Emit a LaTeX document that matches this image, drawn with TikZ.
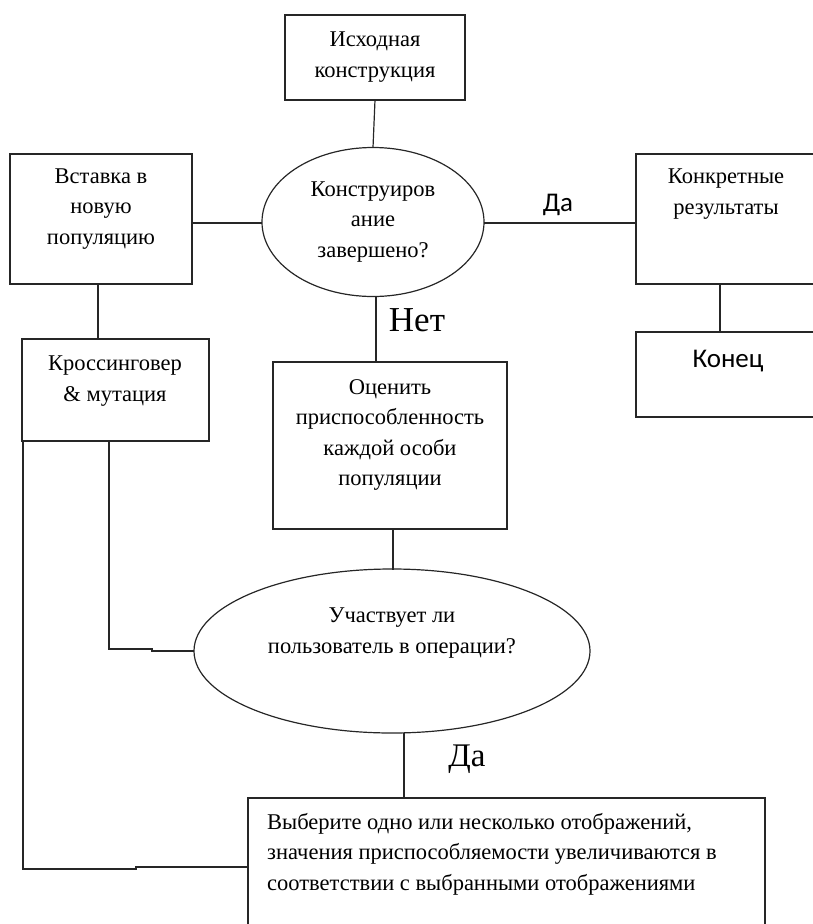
\documentclass[tikz,border=0pt]{standalone}
\usepackage{fontspec}
\setmainfont{Liberation Serif}
\newfontfamily\calib{Carlito}
\usetikzlibrary{shapes.geometric}
\begin{document}
\begin{tikzpicture}[x=1pt,y=-1pt,
  txt/.style={align=center,inner sep=0pt,font=\fontsize{22.5}{30.5}\selectfont},
  conn/.style={line width=1.2pt,draw=black!85},
  hold/.style={rectangle,inner sep=0pt,anchor=north west}]
\useasboundingbox (0,0) rectangle (813,924);
% boxes
\node[hold,minimum width=180,minimum height=85] (top) at (285,15) {};
\draw[conn] (285,15) rectangle (465,100);
\node[txt] (toptxt) at (375,57) {Исходная\\конструкция};

\node[hold,minimum width=182,minimum height=130] (ins) at (10,154) {};
\draw[conn] (10,154) rectangle (192,284);
\node[txt] (instxt) at (101,209) {Вставка в\\новую\\популяцию};

\node[hold,minimum width=194,minimum height=130] (res) at (636,154) {};
\draw[conn] (636,154) rectangle (830,284);
\node[txt] (restxt) at (726,194) {Конкретные\\результаты};

\node[hold,minimum width=187,minimum height=102] (cross) at (22,339) {};
\draw[conn] (22,339) rectangle (209,441);
\node[txt] (crosstxt) at (115,381) {Кроссинговер\\\& мутация};

\node[hold,minimum width=194,minimum height=85] (fin) at (636,332) {};
\draw[conn] (636,332) rectangle (830,417);
\node[inner sep=0pt,font=\calib\fontsize{27}{30}\selectfont] (fintxt) at (728,361) {Конец};

\node[hold,minimum width=234,minimum height=167] (eval) at (273,362) {};
\draw[conn] (273,362) rectangle (507,529);
\node[txt] (evaltxt) at (390,435) {Оценить\\приспособленность\\каждой особи\\популяции};

\node[hold,minimum width=517,minimum height=142] (sel) at (248,798) {};
\draw[conn] (248,798) rectangle (765,940);
\node[txt,align=left,anchor=north west] (seltxt) at (267,813) {Выберите одно или несколько отображений,\\значения приспособляемости увеличиваются в\\соответствии с выбранными отображениями};

% ellipses
\draw[conn] (373,222) ellipse [x radius=111,y radius=74.5];
\coordinate (e1n) at (373,147.5);
\coordinate (e1s) at (376,296.5);
\coordinate (e1w) at (262,223);
\coordinate (e1e) at (484,223);
\node[txt] (e1txt) at (373,222) {Конструиров\\ание\\завершено?};

\draw[conn] (392,651) ellipse [x radius=198,y radius=82];
\coordinate (e2n) at (393,569.5);
\coordinate (e2s) at (404,732.5);
\coordinate (e2w) at (194,651);
\node[txt] (e2txt) at (392,633) {Участвует ли\\пользователь в операции?};

% labels
\node[inner sep=0pt,font=\fontsize{35}{35}\selectfont] (net) at (417,320) {Нет};
\node[inner sep=0pt,font=\calib\fontsize{27}{27}\selectfont] (da1) at (558,205) {Да};
\node[inner sep=0pt,font=\fontsize{33}{33}\selectfont] (da2) at (467,759) {Да};

% connectors
\draw[conn] (375,100) -- (e1n);
\draw[conn] (192,223) -- (e1w);
\draw[conn] (e1e) -- (636,223);
\draw[conn] (98,284) -- (98,339);
\draw[conn] (720,284) -- (720,332);
\draw[conn] (e1s) -- (376,362);
\draw[conn] (393,529) -- (e2n);
\draw[conn] (e2s) -- (404,798);
\draw[conn] (109,441) -- (109,649) -- (152,649) -- (152,651) -- (e2w);
\draw[conn] (23,441) -- (23,869) -- (136,869) -- (136,867) -- (248,867);
\end{tikzpicture}
\end{document}
